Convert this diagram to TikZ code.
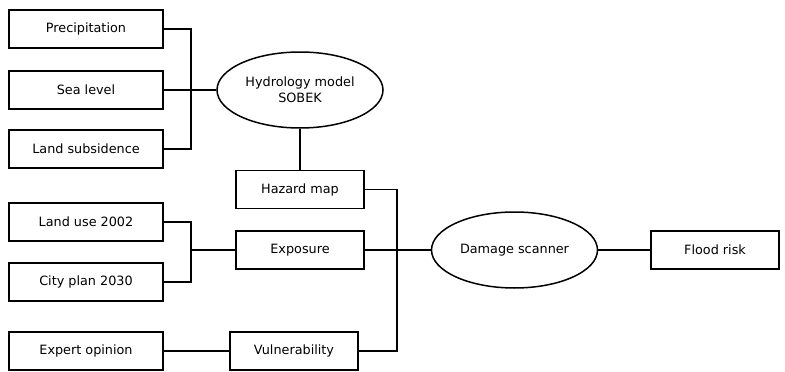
\documentclass[tikz,border=0pt]{standalone}
\usepackage{fontspec}
\setmainfont{DejaVu Sans}
\usetikzlibrary{shapes.geometric}

\begin{document}
\begin{tikzpicture}[x=1pt, y=-1pt, line width=1.5pt,
    font=\fontsize{12.8}{16}\selectfont,
    inbox/.style={draw, rectangle, minimum width=154pt, minimum height=38pt, inner sep=0pt},
    midbox/.style={draw, rectangle, minimum width=128pt, minimum height=38pt, inner sep=0pt},
    model/.style={draw, ellipse, minimum width=166pt, minimum height=76pt, inner sep=0pt, align=center}]
    \useasboundingbox (0,0) rectangle (785,372);
    % inputs
    \node[inbox] (prec) at (86,29) {Precipitation};
    \node[inbox] (sea) at (86,90) {Sea level};
    \node[inbox] (sub) at (86,149) {Land subsidence};
    \node[inbox] (landuse) at (86,222) {Land use 2002};
    \node[inbox] (city) at (86,282) {City plan 2030};
    \node[inbox] (expert) at (86,351) {Expert opinion};
    % models and maps
    \node[model] (hydro) at (300,90) {Hydrology model\\SOBEK};
    \node[midbox] (hazard) at (300,189.5) {Hazard map};
    \node[midbox] (expo) at (300,250) {Exposure};
    \node[midbox] (vul) at (294,351) {Vulnerability};
    \node[model] (damage) at (514.5,250) {Damage scanner};
    \node[midbox] (flood) at (715,250) {Flood risk};
    % bus points
    \coordinate (hbus) at (191,90);
    \coordinate (lbus) at (191,250);
    \coordinate (dbus) at (397,250);
    % connectors
    \draw (prec.east) -| (hbus) |- (sub.east);
    \draw (sea.east) -- (hydro.west);
    \draw (hydro.south) -- (hazard.north);
    \draw (landuse.east) -| (lbus) |- (city.east);
    \draw (lbus) -- (expo.west);
    \draw (expert.east) -- (vul.west);
    \draw (hazard.east) -| (dbus) |- (vul.east);
    \draw (expo.east) -- (damage.west);
    \draw (damage.east) -- (flood.west);
\end{tikzpicture}
\end{document}
